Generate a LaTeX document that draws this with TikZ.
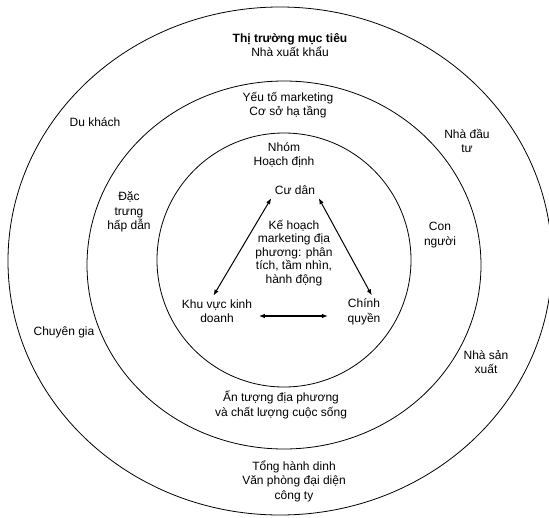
\documentclass[tikz,border=0pt]{standalone}
\usepackage{fontspec}
\setmainfont{Liberation Sans}
\usetikzlibrary{arrows.meta}
\begin{document}
\begin{tikzpicture}[x=1pt,y=-1pt,line width=0.8pt,
  txt/.style={align=center,font=\fontsize{12}{14.5}\selectfont},
  link/.style={{Latex[length=6pt,width=4.5pt]}-{Latex[length=6pt,width=4.5pt]},line width=1pt}]
\useasboundingbox (0,0) rectangle (549,517);
\foreach \cx/\cy/\rx/\ry in {280/261/272/254,284/265/197/184,284/260/127/127}
  \draw (\cx,\cy) ellipse [x radius=\rx pt,y radius=\ry pt];
% outer ring
\node[txt] (thitruong) at (290,45) {\textbf{Thị trường mục tiêu}\\Nhà xuất khẩu};
\node[txt] (dukhach) at (95,122) {Du khách};
\node[txt] (nhadautu) at (467,141) {Nhà đầu\\tư};
\node[txt] (chuyengia) at (64,332) {Chuyên gia};
\node[txt] (nhasanxuat) at (486,362) {Nhà sản\\xuất};
\node[txt] (tonghanh) at (294,481) {Tổng hành dinh\\Văn phòng đại diện\\công ty};
% middle ring
\node[txt] (yeuto) at (288,105) {Yếu tố marketing\\Cơ sở hạ tầng};
\node[txt] (dactrung) at (129,212) {Đặc\\trưng\\hấp dẫn};
\node[txt] (connguoi) at (440,235) {Con\\người};
\node[txt] (antuong) at (281,405) {Ấn tượng địa phương\\và chất lượng cuộc sống};
% inner ring
\node[txt] (nhom) at (284,155) {Nhóm\\Hoạch định};
\node[txt] (cudan) at (295,190) {Cư dân};
\node[txt,font=\fontsize{12}{13.5}\selectfont] (kehoach) at (294,253)
  {Kế hoạch\\marketing địa\\phương: phân\\tích, tầm nhìn,\\hành động};
\node[txt] (khuvuc) at (217,311) {Khu vực kinh\\doanh};
\node[txt] (chinh) at (364,312) {Chính\\quyền};
\draw[link] (cudan.south west) -- (khuvuc.103);
\draw[link] (cudan.south east) -- (chinh.65);
\draw[link,line width=1.6pt,shorten <=3pt,shorten >=16pt] ([yshift=-5pt]khuvuc.east) -- ([yshift=-4pt]chinh.west);
\end{tikzpicture}
\end{document}
